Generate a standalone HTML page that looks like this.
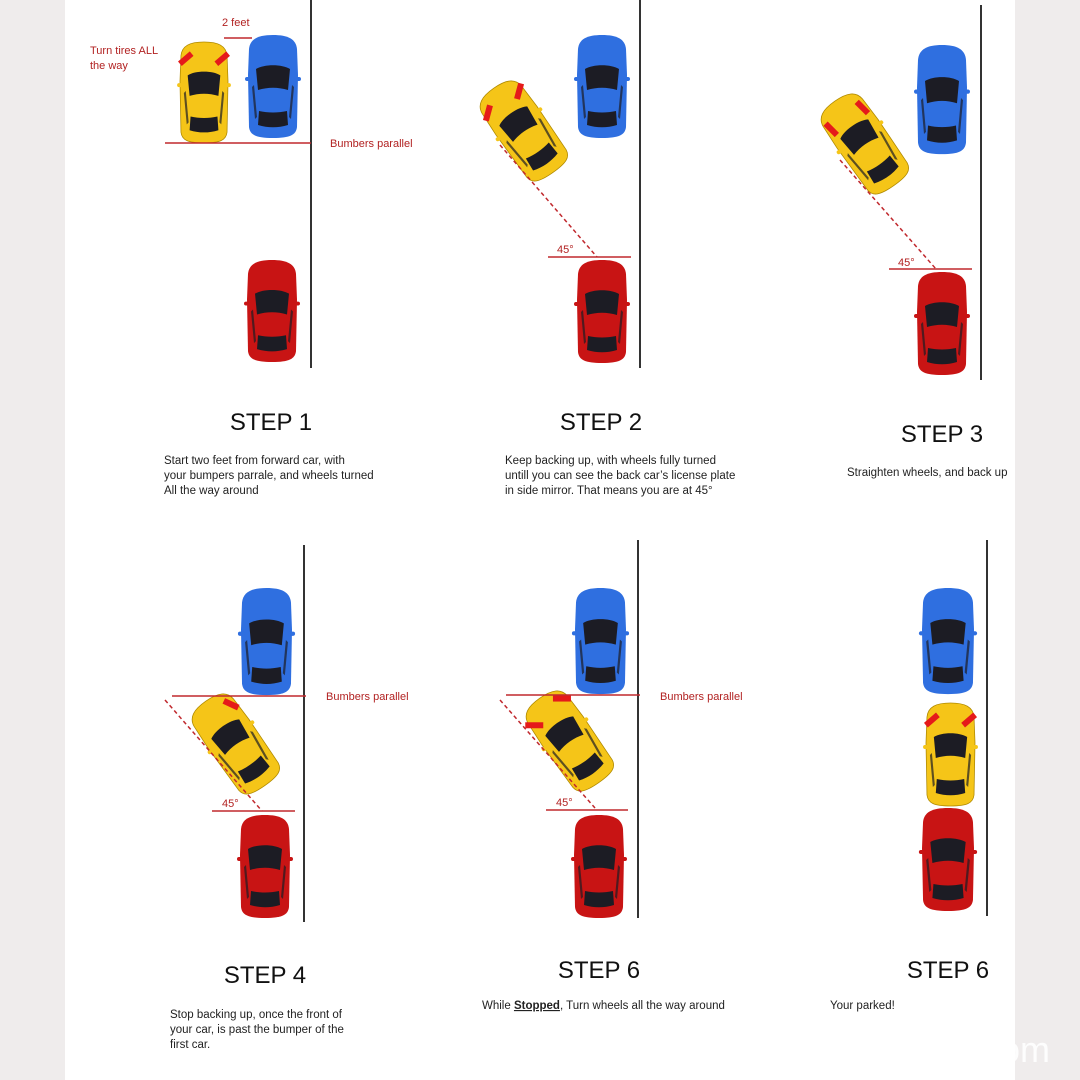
<!DOCTYPE html>
<html><head><meta charset="utf-8"><style>
html,body{margin:0;padding:0;background:#efecec;}
svg{display:block}
text{font-family:"Liberation Sans",sans-serif;}
.t{font-size:11.5px;fill:#222}
.s{font-size:24px;fill:#111}
.r{font-size:11px;fill:#b22222}
</style></head><body>
<svg width="1080" height="1080" viewBox="0 0 1080 1080" xmlns="http://www.w3.org/2000/svg">
<defs>
<g id="body">
<path d="M25 0 C40 0 48 4 49 14 L50 40 L49 92 C48 100 42 103 25 103 C8 103 2 100 1 92 L0 40 L1 14 C2 4 10 0 25 0Z"/>
</g>
<g id="det">
<rect x="-3" y="42" width="7" height="4" rx="2"/>
<rect x="46" y="42" width="7" height="4" rx="2"/>
<path d="M8 34 C16 29 34 29 42 34 L40 55 C30 52 20 52 10 55Z" fill="#1c1c24"/>
<path d="M11 76 C20 78 30 78 39 76 L40 90 C30 93 20 93 10 90Z" fill="#1c1c24"/>
<path d="M6 50 L9 82 L7 84 L4 52Z M44 50 L41 82 L43 84 L46 52Z" fill="#1c1c24" opacity="0.7"/>
</g>
<g id="blue"><use href="#body" fill="#2f6fe0"/><use href="#det" fill="#2f6fe0"/></g>
<g id="red"><use href="#body" fill="#c81414"/><use href="#det" fill="#c81414"/></g>
<g id="yel"><use href="#body" fill="#f5c518" stroke="#b08a00" stroke-width="0.8"/><use href="#det" fill="#f5c518"/></g>
<g id="yelt"><use href="#yel"/>
<rect x="-2" y="14" width="16" height="6" fill="#e51a1a" transform="rotate(-40 6 17)"/>
<rect x="36" y="14" width="16" height="6" fill="#e51a1a" transform="rotate(-40 44 17)"/></g>
</defs>
<rect x="0" y="0" width="1080" height="1080" fill="#efecec"/>
<rect x="65" y="0" width="950" height="1080" fill="#fff"/>
<text x="1000" y="1062" font-size="36" fill="#fff" opacity="0.9">om</text>

<g stroke="#333" stroke-width="2">
<line x1="311" y1="0" x2="311" y2="368"/>
<line x1="640" y1="0" x2="640" y2="368"/>
<line x1="981" y1="5" x2="981" y2="380"/>
<line x1="304" y1="545" x2="304" y2="922"/>
<line x1="638" y1="540" x2="638" y2="918"/>
<line x1="987" y1="540" x2="987" y2="916"/>
</g>

<!-- Panel 1 -->
<use href="#blue" transform="translate(248,35)"/>
<use href="#red" transform="translate(247,260) scale(1,0.99)"/>
<g transform="translate(180,42) scale(0.96,0.98)"><use href="#yelt"/></g>
<g stroke="#c0282d" stroke-width="1.5"><line x1="165" y1="143" x2="311" y2="143"/><line x1="224" y1="38" x2="252" y2="38"/></g>
<text class="r" x="222" y="26">2 feet</text>
<text class="r" x="90" y="54">Turn tires ALL</text>
<text class="r" x="90" y="69">the way</text>
<text class="r" x="330" y="147">Bumbers parallel</text>
<text class="s" x="271" y="430" text-anchor="middle">STEP 1</text>
<text class="t" x="164" y="464">Start two feet from forward car, with</text>
<text class="t" x="164" y="479">your bumpers parrale, and wheels turned</text>
<text class="t" x="164" y="494">All the way around</text>

<!-- Panel 2 -->
<use href="#blue" transform="translate(577,35)"/>
<use href="#red" transform="translate(577,260)"/>
<g transform="translate(523,130) rotate(-35) translate(-25,-51)"><use href="#yelt"/></g>
<line x1="500" y1="145" x2="597" y2="257" stroke="#c0282d" stroke-width="1.5" stroke-dasharray="4,3"/>
<line x1="548" y1="257" x2="631" y2="257" stroke="#c0282d" stroke-width="1.5"/>
<text class="r" x="557" y="253">45°</text>
<text class="s" x="601" y="430" text-anchor="middle">STEP 2</text>
<text class="t" x="505" y="464">Keep backing up, with wheels fully  turned</text>
<text class="t" x="505" y="479">untill you can see the back car’s license plate</text>
<text class="t" x="505" y="494">in side mirror. That means you are at 45°</text>

<!-- Panel 3 -->
<use href="#blue" transform="translate(917,45) scale(1,1.06)"/>
<use href="#red" transform="translate(917,272)"/>
<g transform="translate(864,143) rotate(-35) translate(-25,-51)"><use href="#yel"/>
<rect x="-2" y="18" width="16" height="6" fill="#e51a1a" transform="rotate(80 6 21)"/>
<rect x="36" y="18" width="16" height="6" fill="#e51a1a" transform="rotate(80 44 21)"/></g>
<line x1="840" y1="160" x2="936" y2="269" stroke="#c0282d" stroke-width="1.5" stroke-dasharray="4,3"/>
<line x1="889" y1="269" x2="972" y2="269" stroke="#c0282d" stroke-width="1.5"/>
<text class="r" x="898" y="266">45°</text>
<text class="s" x="942" y="442" text-anchor="middle">STEP 3</text>
<text class="t" x="847" y="476">Straighten wheels, and back up</text>

<!-- Panel 4 -->
<use href="#blue" transform="translate(241,588) scale(1.02,1.04)"/>
<use href="#red" transform="translate(240,815)"/>
<g transform="translate(235,743) rotate(-35) translate(-25,-51)"><use href="#yel"/>
<rect x="36" y="14" width="16" height="6" fill="#e51a1a" transform="rotate(60 44 17)"/></g>
<line x1="165" y1="700" x2="262" y2="811" stroke="#c0282d" stroke-width="1.5" stroke-dasharray="4,3"/>
<line x1="172" y1="696" x2="306" y2="696" stroke="#c0282d" stroke-width="1.5"/>
<line x1="212" y1="811" x2="295" y2="811" stroke="#c0282d" stroke-width="1.5"/>
<text class="r" x="222" y="807">45°</text>
<text class="r" x="326" y="700">Bumbers parallel</text>
<text class="s" x="265" y="983" text-anchor="middle">STEP 4</text>
<text class="t" x="170" y="1018">Stop backing up, once the front of</text>
<text class="t" x="170" y="1033">your car, is past the bumper of the</text>
<text class="t" x="170" y="1048">first car.</text>

<!-- Panel 5 -->
<use href="#blue" transform="translate(575,588) scale(1.02,1.03)"/>
<use href="#red" transform="translate(574,815)"/>
<g transform="translate(569,740) rotate(-35) translate(-25,-51)"><use href="#yel"/>
<rect x="-4" y="16" width="18" height="6" fill="#e51a1a" transform="rotate(35 5 19)"/>
<rect x="34" y="10" width="18" height="6" fill="#e51a1a" transform="rotate(35 43 13)"/></g>
<line x1="500" y1="700" x2="595" y2="808" stroke="#c0282d" stroke-width="1.5" stroke-dasharray="4,3"/>
<line x1="506" y1="695" x2="640" y2="695" stroke="#c0282d" stroke-width="1.5"/>
<line x1="546" y1="810" x2="628" y2="810" stroke="#c0282d" stroke-width="1.5"/>
<text class="r" x="556" y="806">45°</text>
<text class="r" x="660" y="700">Bumbers parallel</text>
<text class="s" x="599" y="978" text-anchor="middle">STEP 6</text>
<text class="t" x="482" y="1009">While <tspan font-weight="bold" text-decoration="underline">Stopped</tspan>, Turn wheels all the way around</text>

<!-- Panel 6 -->
<use href="#blue" transform="translate(922,588) scale(1.04,1.03)"/>
<g transform="translate(926,703) scale(0.98,1)"><use href="#yelt"/></g>
<use href="#red" transform="translate(922,808) scale(1.04,1.0)"/>
<text class="s" x="948" y="978" text-anchor="middle">STEP 6</text>
<text class="t" x="830" y="1009">Your parked!</text>
</svg>
</body></html>
